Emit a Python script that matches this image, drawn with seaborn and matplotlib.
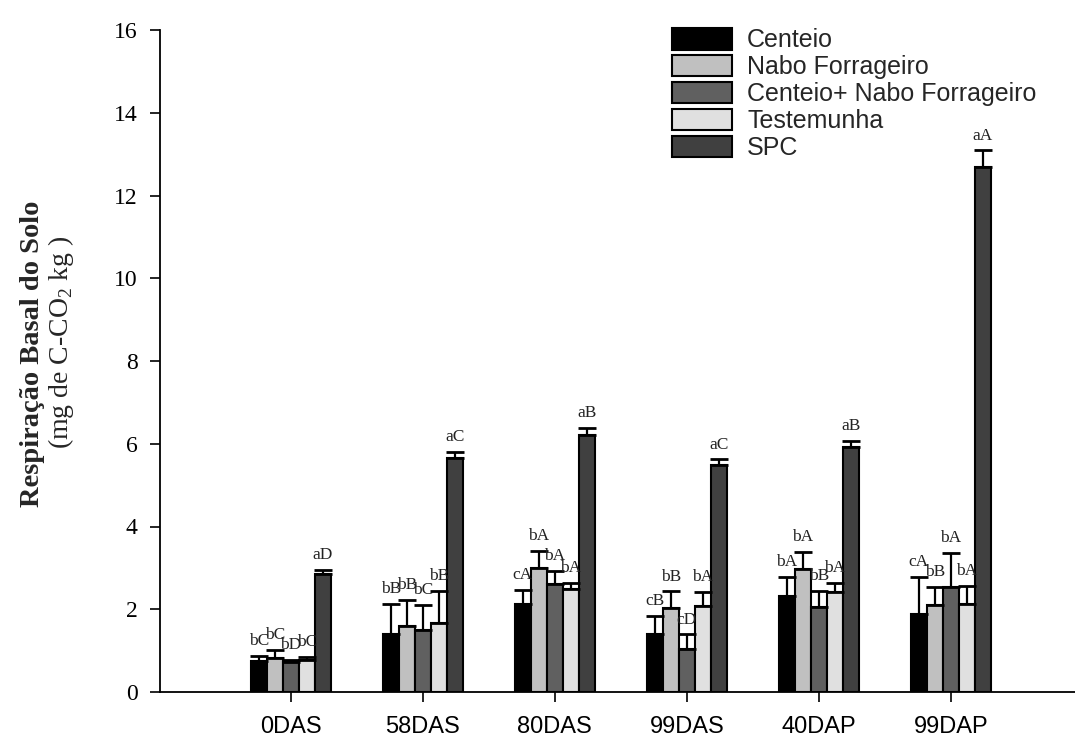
import matplotlib
matplotlib.use("Agg")
import matplotlib.pyplot as plt
import seaborn as sns
import pandas as pd

# ---- data ----
periods = ["0DAS", "58DAS", "80DAS", "99DAS", "40DAP", "99DAP"]
treatments = ["Centeio", "Nabo Forrageiro", "Centeio+ Nabo Forrageiro", "Testemunha", "SPC"]

centeio = [0.76, 1.39, 2.13, 1.39, 2.33, 1.89]
nabo = [0.83, 1.59, 3.00, 2.03, 2.97, 2.11]
cent_nabo = [0.72, 1.51, 2.62, 1.03, 2.05, 2.54]
testemunha = [0.78, 1.67, 2.50, 2.09, 2.42, 2.13]
spc = [2.85, 5.66, 6.21, 5.49, 5.93, 12.69]

err_centeio = [0.11, 0.74, 0.34, 0.44, 0.45, 0.88]
err_nabo = [0.18, 0.63, 0.41, 0.40, 0.41, 0.42]
err_cent_nabo = [0.05, 0.60, 0.31, 0.36, 0.40, 0.82]
err_testemunha = [0.07, 0.78, 0.13, 0.33, 0.21, 0.44]
err_spc = [0.11, 0.15, 0.18, 0.13, 0.13, 0.40]

lab_centeio = ["bC", "bB", "cA", "cB", "bA", "cA"]
lab_nabo = ["bC", "bB", "bA", "bB", "bA", "bB"]
lab_cent_nabo = ["bD", "bC", "bA", "cD", "bB", "bA"]
lab_testemunha = ["bC", "bB", "bA", "bA", "bA", "bA"]
lab_spc = ["aD", "aC", "aB", "aC", "aB", "aA"]

colors = ["#000000", "#c0c0c0", "#606060", "#e0e0e0", "#404040"]

values = [centeio, nabo, cent_nabo, testemunha, spc]
errors = [err_centeio, err_nabo, err_cent_nabo, err_testemunha, err_spc]
labels = [lab_centeio, lab_nabo, lab_cent_nabo, lab_testemunha, lab_spc]

rows = []
for t, vals in zip(treatments, values):
    for p, v in zip(periods, vals):
        rows.append({"period": p, "treatment": t, "value": v})
df = pd.DataFrame(rows)

# ---- style ----
sns.set_style("ticks")
plt.rcParams["font.family"] = ["Liberation Serif", "DejaVu Serif"]
plt.rcParams["mathtext.fontset"] = "custom"
plt.rcParams["mathtext.rm"] = "Liberation Serif"

fig = plt.figure(figsize=(10.75, 7.42), dpi=100)
ax = fig.add_axes([160 / 1075, 50 / 742, (1075 - 160) / 1075, (692 - 30) / 742])

sns.barplot(data=df, x="period", y="value", hue="treatment",
            order=periods, hue_order=treatments,
            palette=dict(zip(treatments, colors)), saturation=1,
            edgecolor="black", linewidth=1.5, width=0.606,
            errorbar=None, ax=ax)

bar_containers = list(ax.containers)
for i, cont in enumerate(bar_containers):
    bars = list(cont.patches)
    xs = [b.get_x() + b.get_width() / 2 for b in bars]
    hs = [b.get_height() for b in bars]
    ax.errorbar(xs, hs, yerr=[[0] * len(hs), errors[i]], fmt="none",
                ecolor="black", elinewidth=1.6, capsize=6.8, capthick=2.0, zorder=3)
    for x, h, e, lab in zip(xs, hs, errors[i], labels[i]):
        ax.text(x, h + e + 0.36, lab, ha="center", va="center",
                fontsize=12.5, family="Liberation Serif", color="#222222")

ax.set_xlim(-0.99, 5.94)
ax.set_ylim(0, 16)
ax.set_yticks(range(0, 17, 2))
ax.set_xlabel("")
ax.set_ylabel("")
ax.tick_params(axis="both", direction="out", length=7.2, width=1.2, color="black",
               labelsize=17, labelcolor="black")
ax.tick_params(axis="y", pad=9, labelfontfamily="Liberation Serif")
ax.tick_params(axis="x", pad=10, labelfontfamily="Liberation Sans")
sns.despine(ax=ax)
for s in ["left", "bottom"]:
    ax.spines[s].set_linewidth(1.3)
    ax.spines[s].set_color("black")

handles, leg_labels = ax.get_legend_handles_labels()
ax.legend(handles, leg_labels, loc="upper left",
          bbox_to_anchor=(672 / 1075, 1 - 28 / 742), bbox_transform=fig.transFigure,
          frameon=False, borderpad=0, borderaxespad=0,
          prop={"family": "Liberation Sans", "size": 18},
          handlelength=2.4, handleheight=0.95, handletextpad=0.6,
          labelspacing=0.1)

fig.text(33 / 1075, 1 - 354 / 742, "Respiração Basal do Solo", rotation=90,
         ha="center", va="center", fontsize=20.5, fontweight="bold",
         family="Liberation Serif")
fig.text(61 / 1075, 1 - 342 / 742, r"(mg de C-CO$_\mathregular{2}$ kg )", rotation=90,
         ha="center", va="center", fontsize=20, family="Liberation Serif")

fig.savefig("out.png", dpi=100)
